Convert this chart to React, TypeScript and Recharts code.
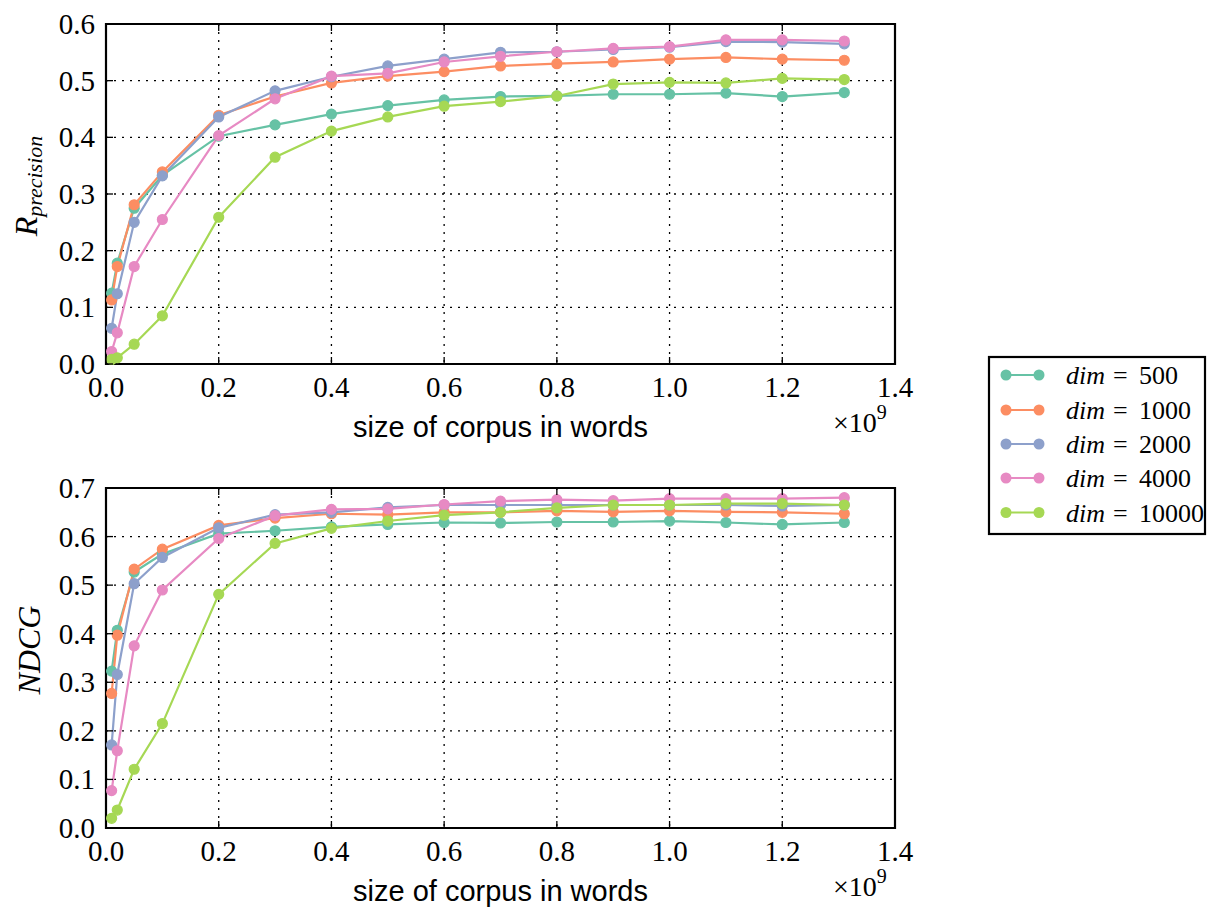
import React from 'react';
import { LineChart, Line, XAxis, YAxis, CartesianGrid, Label, ReferenceArea } from 'recharts';

// ---- data ----
const corpusSize = [0.01, 0.02, 0.05, 0.1, 0.2, 0.3, 0.4, 0.5, 0.6, 0.7, 0.8, 0.9, 1.0, 1.1, 1.2, 1.31];

const dims = ['500', '1000', '2000', '4000', '10000'];
const colors = ['#66c2a5', '#fc8d62', '#8da0cb', '#e78ac3', '#a6d854'];

const rprec500 = [0.125, 0.178, 0.275, 0.333, 0.402, 0.422, 0.441, 0.456, 0.466, 0.472, 0.473, 0.476, 0.476, 0.478, 0.472, 0.479];
const rprec1000 = [0.113, 0.172, 0.281, 0.339, 0.439, 0.472, 0.496, 0.508, 0.516, 0.526, 0.530, 0.533, 0.538, 0.541, 0.538, 0.536];
const rprec2000 = [0.063, 0.124, 0.250, 0.332, 0.436, 0.482, 0.507, 0.526, 0.538, 0.550, 0.551, 0.555, 0.559, 0.569, 0.568, 0.565];
const rprec4000 = [0.022, 0.055, 0.172, 0.255, 0.403, 0.468, 0.508, 0.513, 0.533, 0.543, 0.551, 0.557, 0.560, 0.572, 0.572, 0.570];
const rprec10000 = [0.008, 0.011, 0.035, 0.085, 0.259, 0.365, 0.411, 0.436, 0.455, 0.463, 0.473, 0.494, 0.497, 0.496, 0.504, 0.502];

const ndcg500 = [0.323, 0.407, 0.527, 0.564, 0.606, 0.612, 0.620, 0.625, 0.629, 0.628, 0.630, 0.630, 0.632, 0.629, 0.625, 0.629];
const ndcg1000 = [0.277, 0.397, 0.533, 0.574, 0.623, 0.638, 0.647, 0.645, 0.650, 0.650, 0.653, 0.651, 0.653, 0.651, 0.650, 0.647];
const ndcg2000 = [0.171, 0.316, 0.503, 0.557, 0.618, 0.645, 0.650, 0.660, 0.665, 0.665, 0.665, 0.665, 0.665, 0.665, 0.663, 0.665];
const ndcg4000 = [0.077, 0.159, 0.375, 0.490, 0.596, 0.643, 0.656, 0.657, 0.666, 0.673, 0.676, 0.674, 0.678, 0.678, 0.678, 0.680];
const ndcg10000 = [0.020, 0.037, 0.121, 0.215, 0.481, 0.586, 0.617, 0.632, 0.644, 0.650, 0.659, 0.665, 0.665, 0.668, 0.668, 0.665];

const xTicks = [0, 0.2, 0.4, 0.6, 0.8, 1.0, 1.2, 1.4];
const rprecTicks = [0, 0.1, 0.2, 0.3, 0.4, 0.5, 0.6];
const ndcgTicks = [0, 0.1, 0.2, 0.3, 0.4, 0.5, 0.6, 0.7];

const xLabelText = 'size of corpus in words';

const buildRows = (series: number[][]) =>
  corpusSize.map((x, i) => {
    const row: Record<string, number> = { x };
    dims.forEach((d, k) => {
      row['d' + d] = series[k][i];
    });
    return row;
  });

const rprecRows = buildRows([rprec500, rprec1000, rprec2000, rprec4000, rprec10000]);
const ndcgRows = buildRows([ndcg500, ndcg1000, ndcg2000, ndcg4000, ndcg10000]);

// ---- styles ----
const SERIF = '"Liberation Serif", "Times New Roman", serif';
const SANS = '"Liberation Sans", Arial, sans-serif';
const TICK_LEN = 7;

const BottomTick = (p: any) => (
  <g>
    <line x1={p.x} y1={p.y} x2={p.x} y2={p.y - TICK_LEN} stroke="#000" strokeWidth={1.3} />
    <text x={p.x} y={p.y + 33} textAnchor="middle" fontFamily={SERIF} fontSize={29} fill="#000">
      {Number(p.payload.value).toFixed(1)}
    </text>
  </g>
);
const TopTick = (p: any) => (
  <line x1={p.x} y1={p.y} x2={p.x} y2={p.y + TICK_LEN} stroke="#000" strokeWidth={1.3} />
);
const LeftTick = (p: any) => (
  <g>
    <line x1={p.x} y1={p.y} x2={p.x + TICK_LEN} y2={p.y} stroke="#000" strokeWidth={1.3} />
    <text x={p.x - 11} y={p.y + 10} textAnchor="end" fontFamily={SERIF} fontSize={29} fill="#000">
      {Number(p.payload.value).toFixed(1)}
    </text>
  </g>
);
const RightTick = (p: any) => (
  <line x1={p.x} y1={p.y} x2={p.x - TICK_LEN} y2={p.y} stroke="#000" strokeWidth={1.3} />
);

type PanelProps = {
  rows: Record<string, number>[];
  yTicks: number[];
  yMax: number;
  yLabel: (vb: any) => React.ReactNode;
};

function Panel({ rows, yTicks, yMax, yLabel }: PanelProps) {
  return (
    <LineChart width={930} height={450} data={rows} margin={{ top: 23, right: 34, left: 0, bottom: 0 }}>
      <CartesianGrid stroke="#000" strokeWidth={1.3} strokeDasharray="2 6" />
      <XAxis
        dataKey="x"
        type="number"
        domain={[0, 1.4]}
        ticks={xTicks}
        interval={0}
        height={86}
        tickSize={0}
        tickMargin={0}
        tickLine={false}
        axisLine={{ stroke: '#000', strokeWidth: 2 }}
        tick={BottomTick}
      >
        <Label
          content={(lp: any) => {
            const vb = lp.viewBox || { x: 106, y: 364, width: 789, height: 86 };
            return (
              <g>
                <text
                  x={vb.x + vb.width / 2}
                  y={vb.y + 73}
                  textAnchor="middle"
                  fontFamily={SANS}
                  fontSize={29}
                  fill="#000"
                >
                  {xLabelText}
                </text>
                <text x={vb.x + vb.width - 62} y={vb.y + 68} fontFamily={SERIF} fontSize={28} fill="#000">
                  <tspan>×10</tspan>
                  <tspan dy={-13} fontSize={20}>9</tspan>
                </text>
              </g>
            );
          }}
        />
      </XAxis>
      <XAxis
        xAxisId="top"
        orientation="top"
        dataKey="x"
        type="number"
        domain={[0, 1.4]}
        ticks={xTicks}
        interval={0}
        height={1}
        tickSize={0}
        tickMargin={0}
        tickLine={false}
        axisLine={{ stroke: '#000', strokeWidth: 2 }}
        tick={TopTick}
      />
      <YAxis
        type="number"
        domain={[0, yMax]}
        ticks={yTicks}
        interval={0}
        width={106}
        tickSize={0}
        tickMargin={0}
        tickLine={false}
        axisLine={{ stroke: '#000', strokeWidth: 2 }}
        tick={LeftTick}
      >
        <Label content={(lp: any) => yLabel(lp.viewBox || { x: 0, y: 24, width: 106, height: 340 })} />
      </YAxis>
      <YAxis
        yAxisId="right"
        orientation="right"
        type="number"
        domain={[0, yMax]}
        ticks={yTicks}
        interval={0}
        width={1}
        tickSize={0}
        tickMargin={0}
        tickLine={false}
        axisLine={{ stroke: '#000', strokeWidth: 2 }}
        tick={RightTick}
      />
      {dims.map((d, k) => (
        <Line
          key={d}
          type="linear"
          dataKey={'d' + d}
          stroke={colors[k]}
          strokeWidth={2.2}
          dot={{ r: 5, fill: colors[k], stroke: colors[k], strokeWidth: 1.2 }}
          activeDot={false}
          isAnimationActive={false}
        />
      ))}
      <ReferenceArea
        x1={0}
        x2={1.4}
        y1={0}
        y2={yMax}
        fill="none"
        fillOpacity={0}
        stroke="#000"
        strokeWidth={2.2}
        ifOverflow="visible"
      />
    </LineChart>
  );
}

const rprecLabel = (vb: any) => {
  const cx = 37;
  const cy = vb.y + vb.height / 2 - 8;
  return (
    <text
      transform={`rotate(-90, ${cx}, ${cy})`}
      x={cx}
      y={cy}
      textAnchor="middle"
      fontFamily={SERIF}
      fontStyle="italic"
      fontSize={32}
      fill="#000"
    >
      <tspan>R</tspan>
      <tspan fontSize={22} dy={5}>precision</tspan>
    </text>
  );
};

const ndcgLabel = (vb: any) => {
  const cx = 40;
  const cy = vb.y + vb.height / 2 - 8;
  return (
    <text
      transform={`rotate(-90, ${cx}, ${cy})`}
      x={cx}
      y={cy}
      textAnchor="middle"
      fontFamily={SERIF}
      fontStyle="italic"
      fontSize={32}
      fill="#000"
    >
      NDCG
    </text>
  );
};

function LegendBox() {
  const rowY = [375, 410, 444, 478, 512.5];
  return (
    <svg width={1207} height={909} style={{ position: 'absolute', left: 0, top: 0, pointerEvents: 'none' }}>
      <rect x={989} y={357} width={216} height={177} fill="#fff" stroke="#000" strokeWidth={2.2} />
      {dims.map((d, k) => (
        <g key={d}>
          <line x1={1006} y1={rowY[k]} x2={1039} y2={rowY[k]} stroke={colors[k]} strokeWidth={2.2} />
          <circle cx={1006} cy={rowY[k]} r={5.5} fill={colors[k]} />
          <circle cx={1039} cy={rowY[k]} r={5.5} fill={colors[k]} />
          <text y={rowY[k] + 9} fontFamily={SERIF} fontSize={26} fill="#000">
            <tspan x={1066} fontStyle="italic">dim</tspan>
            <tspan x={1113}>=</tspan>
            <tspan x={1139}>{d}</tspan>
          </text>
        </g>
      ))}
    </svg>
  );
}

export default function App() {
  return (
    <div style={{ position: 'absolute', left: 0, top: 0, width: 1207, height: 909, background: '#fff' }}>
      <div style={{ position: 'absolute', left: 0, top: 0 }}>
        <Panel rows={rprecRows} yTicks={rprecTicks} yMax={0.6} yLabel={rprecLabel} />
      </div>
      <div style={{ position: 'absolute', left: 0, top: 464 }}>
        <Panel rows={ndcgRows} yTicks={ndcgTicks} yMax={0.7} yLabel={ndcgLabel} />
      </div>
      <LegendBox />
    </div>
  );
}
